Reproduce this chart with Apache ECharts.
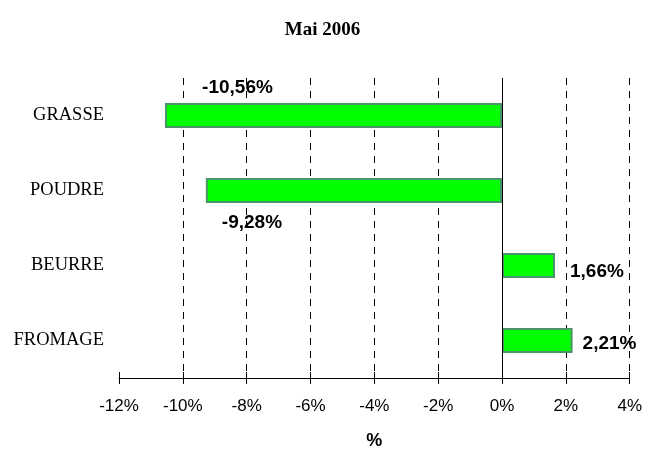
<!DOCTYPE html>
<html>
<head>
<meta charset="utf-8">
<script src="https://cdn.jsdelivr.net/npm/echarts@6/dist/echarts.min.js"></script>
<style>
  html, body { margin: 0; padding: 0; background: #fff; }
  #main { width: 645px; height: 455px; }
</style>
</head>
<body>
<div id="main"></div>
<script>
var categories = ["GRASSE", "POUDRE", "BEURRE", "FROMAGE"];
var values = [-10.56, -9.28, 1.66, 2.21];
var xTicks = { min: -12, max: 4, interval: 2 };

// label placement per bar (like the hand-moved labels of the original)
var labelPlace = [
  { position: "top", distance: 5, offset: [-96, -1] },
  { position: "bottom", distance: 5, offset: [-102, 5] },
  { position: "right", distance: 15, offset: [0, 6] },
  { position: "right", distance: 10, offset: [0, 3] }
];

function pct(v) {
  return v.toFixed(2).replace(".", ",") + "%";
}

var chart = echarts.init(document.getElementById("main"));

var data = [];
for (var i = 0; i < values.length; i++) {
  data.push({
    value: values[i],
    label: labelPlace[i]
  });
}

var option = {
  animation: false,
  backgroundColor: "#fff",
  title: {
    text: "Mai 2006",
    left: "center",
    top: 16,
    textStyle: { fontFamily: "Liberation Serif", fontWeight: "bold", fontSize: 19, color: "#000" }
  },
  grid: { left: 119, right: 14, top: 78, bottom: 72 },
  xAxis: [
    {
      type: "value",
      min: xTicks.min,
      max: xTicks.max,
      interval: xTicks.interval,
      name: "%",
      nameLocation: "middle",
      nameGap: 54,
      nameTextStyle: { fontFamily: "Liberation Sans", fontWeight: "bold", fontSize: 18, color: "#000" },
      axisLine: { show: true, onZero: false, lineStyle: { color: "#000", width: 1 } },
      axisTick: { show: true, length: 6, lineStyle: { color: "#000" } },
      axisLabel: {
        margin: 20,
        fontFamily: "Liberation Sans",
        fontSize: 17,
        color: "#000",
        formatter: "{value}%"
      },
      splitLine: {
        show: true,
        showMinLine: false,
        showMaxLine: true,
        lineStyle: { color: "#000", width: 1, type: [7, 6] }
      }
    },
    {
      // second axis only for the inner half of the cross ticks
      type: "value",
      position: "bottom",
      min: xTicks.min,
      max: xTicks.max,
      interval: xTicks.interval,
      axisLine: { show: false, onZero: false },
      axisTick: { show: true, inside: true, length: 6, lineStyle: { color: "#000" } },
      axisLabel: { show: false },
      splitLine: { show: false }
    }
  ],
  yAxis: {
    type: "category",
    data: categories,
    inverse: true,
    axisLine: { show: false, onZero: false },
    axisTick: { show: false },
    axisLabel: {
      margin: 15,
      fontFamily: "Liberation Serif",
      fontSize: 18.5,
      color: "#000"
    }
  },
  series: [
    {
      type: "bar",
      xAxisIndex: 0,
      data: data,
      barWidth: 25,
      itemStyle: { color: "#00ff00", borderColor: "#4a9468", borderWidth: 2 },
      label: {
        show: true,
        fontFamily: "Liberation Sans",
        fontWeight: "bold",
        fontSize: 19,
        color: "#000",
        formatter: function (p) { return pct(p.value); }
      },
      markLine: {
        silent: true,
        symbol: "none",
        label: { show: false },
        lineStyle: { color: "#000", width: 1, type: "solid" },
        data: [{ xAxis: 0 }]
      }
    }
  ]
};

chart.setOption(option);
</script>
</body>
</html>
